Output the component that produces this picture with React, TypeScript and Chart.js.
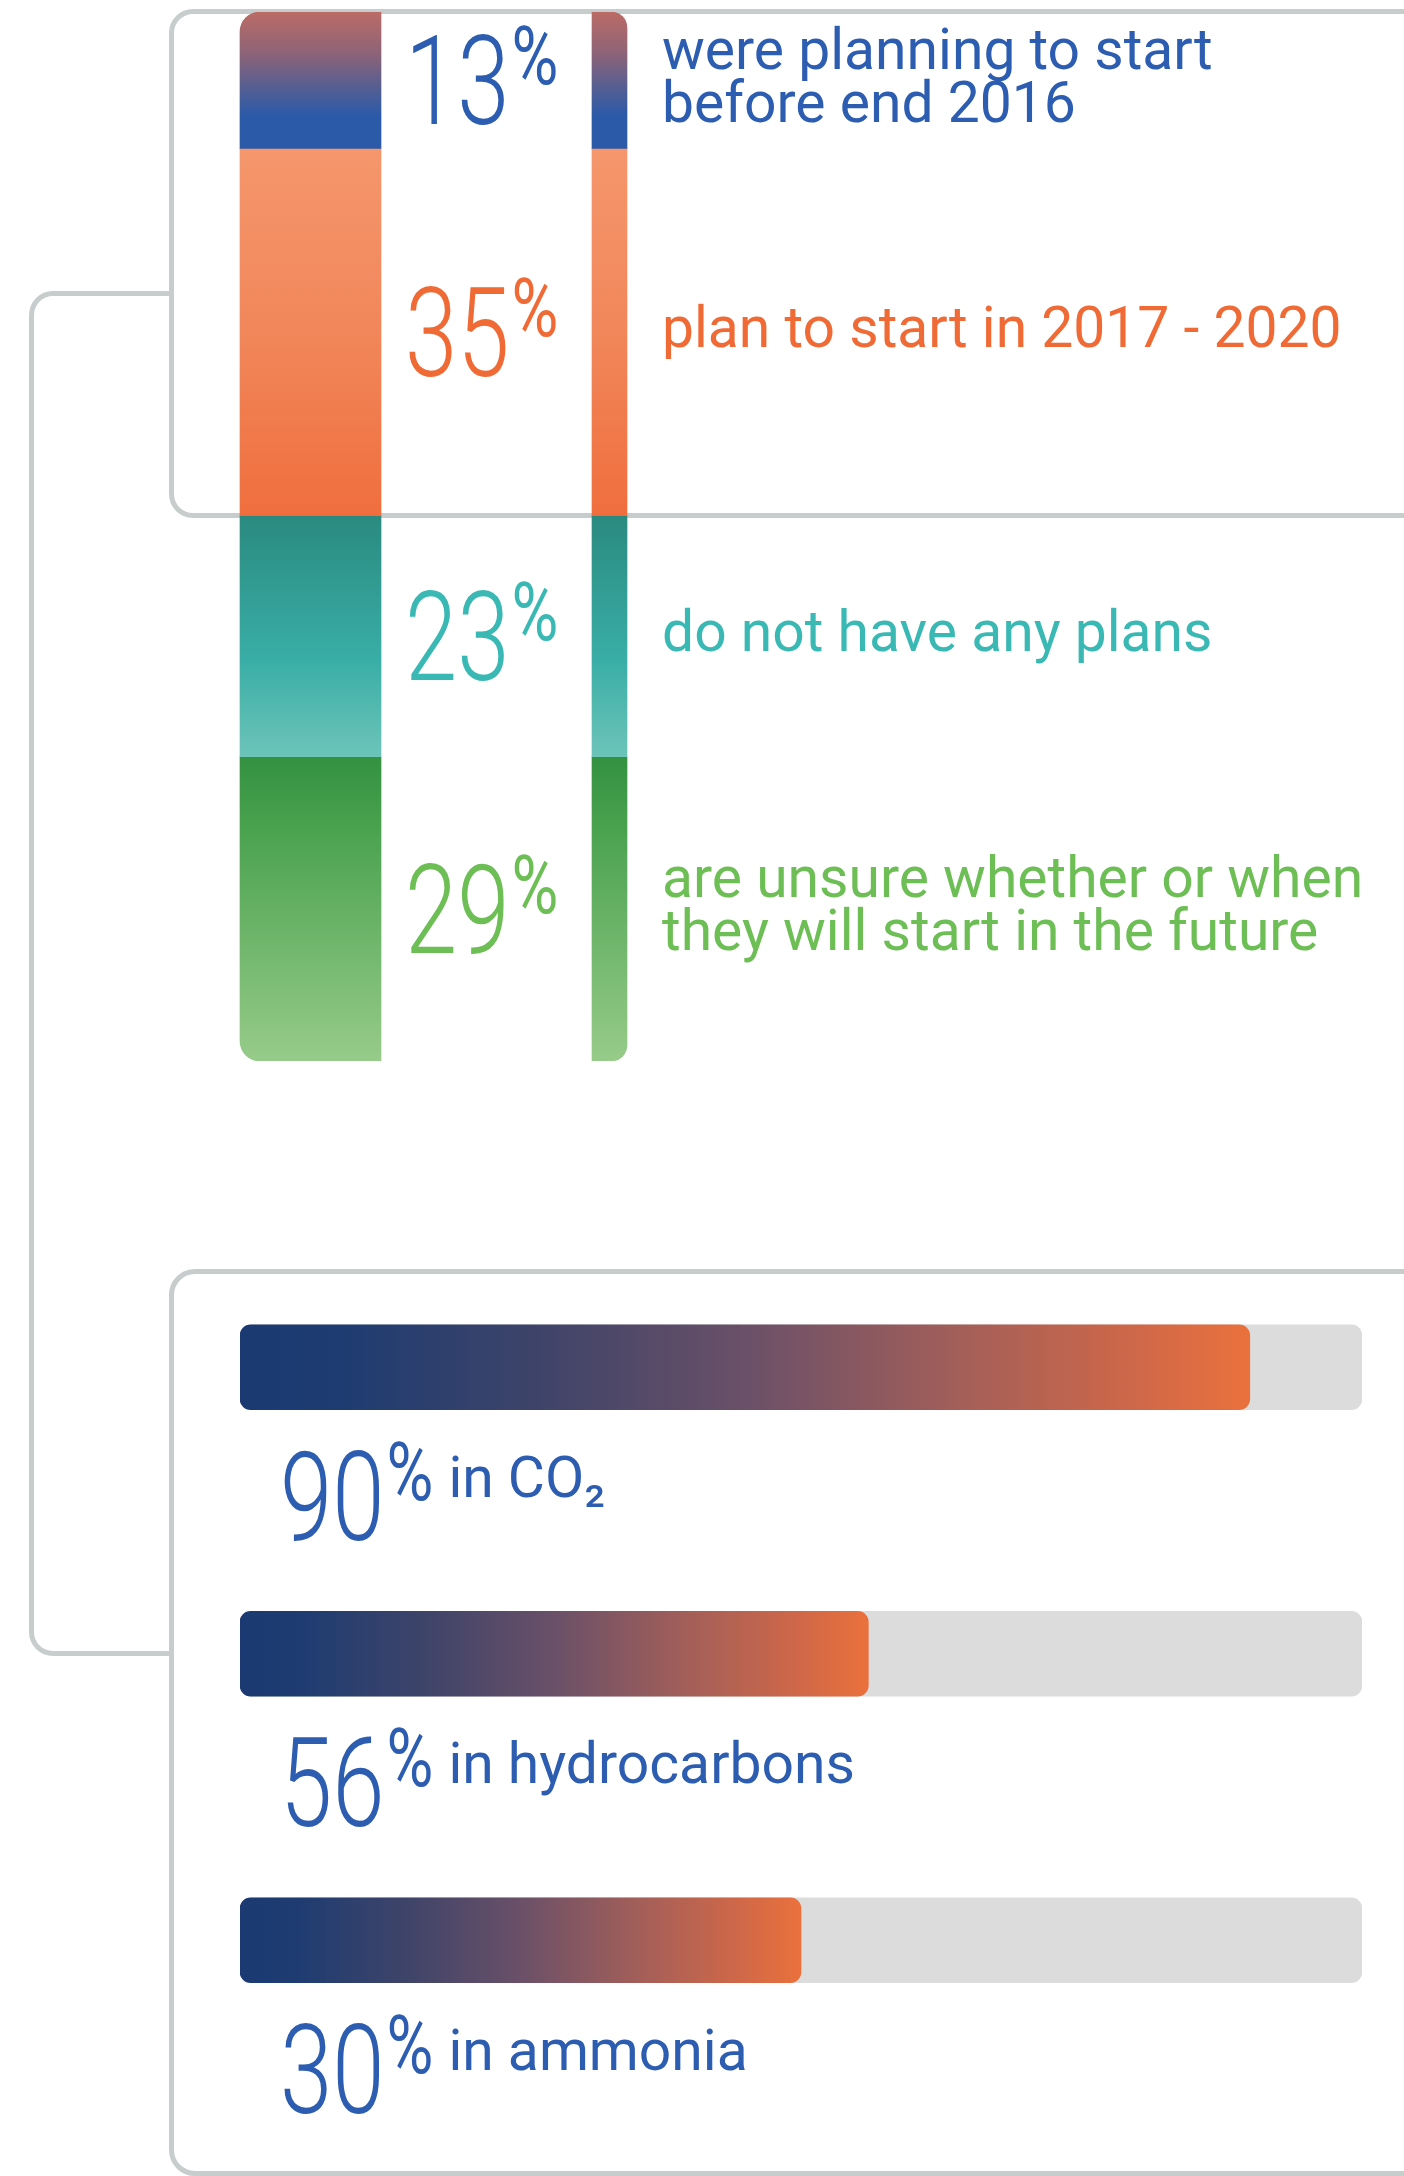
import { useEffect, useRef } from 'react';
import { Chart, registerables } from 'chart.js';

Chart.register(...registerables);

// ---------- Data: plans (stacked share bar) ----------
const planCategories = ['before end 2016', '2017 - 2020', 'no plans', 'unsure'];
const planShares = [13, 35, 23, 29];
const planDescriptions = [
  ['were planning to start', 'before end 2016'],
  ['plan to start in 2017 - 2020'],
  ['do not have any plans'],
  ['are unsure whether or when', 'they will start in the future'],
];

// ---------- Data: by medium (horizontal bars) ----------
const gasCategories = ['CO₂', 'hydrocarbons', 'ammonia'];
const gasLabelValues = [90, 56, 30];
const gasBarLengths = [90, 56, 50]; // bar lengths as drawn in the picture
const gasTrackValues = [100, 100, 100];
const gasDescriptions = ['in CO₂', 'in hydrocarbons', 'in ammonia'];

// ---------- Styles ----------
const FONT = 'Roboto, "Liberation Sans", sans-serif';
const LINE = '#c7cccc';
const GAS_TEXT = '#2d5db0';
const planTextColors = ['#2c5db0', '#f06a35', '#3ab9b4', '#6cbe55'];
const planGradientStops: [number, string][][] = [
  [[0, '#bb6b66'], [0.32, '#8a6379'], [0.58, '#4f5e95'], [0.76, '#2b5aa8'], [1, '#2b5aa8']],
  [[0, '#f5966c'], [0.5, '#f1875a'], [1, '#f06e3e']],
  [[0, '#2a8a80'], [0.6, '#39aea6'], [1, '#6dc4b9']],
  [[0, '#339140'], [0.2, '#46a04c'], [1, '#97cb89']],
];
const gasGradientStops: [number, string][] = [
  [0, '#1b3a73'], [0.1, '#1e3c71'], [0.3, '#3f4469'], [0.5, '#6a5068'],
  [0.7, '#a05e5a'], [0.88, '#cd6749'], [1, '#ea713c'],
];
const DIGIT_SCALE = 0.76;
const PCT_SCALE = 0.78;
const DESC_FONT = `400 57px ${FONT}`;

const planStarts = planShares.map((_, i) => planShares.slice(0, i).reduce((a, b) => a + b, 0));

function drawPercent(ctx: CanvasRenderingContext2D, x: number, top: number, digits: string, color: string) {
  ctx.save();
  ctx.fillStyle = color;
  ctx.textAlign = 'left';
  ctx.textBaseline = 'alphabetic';
  ctx.font = `300 124px ${FONT}`;
  const dw = ctx.measureText(digits).width * DIGIT_SCALE;
  ctx.save();
  ctx.translate(x, top + 88);
  ctx.scale(DIGIT_SCALE, 1);
  ctx.fillText(digits, 0, 0);
  ctx.restore();
  ctx.font = `400 82px ${FONT}`;
  const px = x + dw + 2;
  const pw = ctx.measureText('%').width * PCT_SCALE;
  ctx.save();
  ctx.translate(px, top + 48);
  ctx.scale(PCT_SCALE, 1);
  ctx.fillText('%', 0, 0);
  ctx.restore();
  ctx.restore();
  return px + pw;
}

function planGradient(i: number) {
  return (c: any) => {
    const chart = c.chart;
    const stops = planGradientStops[i];
    const y = chart.scales && chart.scales.y;
    if (!y || !chart.chartArea) return stops[stops.length - 1][1];
    const y0 = y.getPixelForValue(planStarts[i]);
    const y1 = y.getPixelForValue(planStarts[i] + planShares[i]);
    const g = chart.ctx.createLinearGradient(0, y0, 0, y1);
    stops.forEach(([o, col]) => g.addColorStop(o, col));
    return g;
  };
}

function gasGradient(c: any) {
  const chart = c.chart;
  const x = chart.scales && chart.scales.x;
  if (!x || !chart.chartArea || c.type !== 'data') return '#6a5068';
  const x0 = x.getPixelForValue(0);
  const x1 = x.getPixelForValue(gasBarLengths[c.dataIndex]);
  const g = chart.ctx.createLinearGradient(x0, 0, x1, 0);
  gasGradientStops.forEach(([o, col]) => g.addColorStop(o, col));
  return g;
}

const planLabelPlugin = {
  id: 'planLabels',
  afterDatasetsDraw(chart: any) {
    const ctx = chart.ctx as CanvasRenderingContext2D;
    planShares.forEach((v, i) => {
      const wideEl = chart.getDatasetMeta(i).data[0];
      const thinEl = chart.getDatasetMeta(planShares.length + i).data[1];
      if (!wideEl || !thinEl) return;
      const mid = (wideEl.y + wideEl.base) / 2;
      drawPercent(ctx, wideEl.x + wideEl.width / 2 + 24, mid - 44, String(v), planTextColors[i]);
      const lines = planDescriptions[i];
      const lh = 53;
      const first = mid + 15 - ((lines.length - 1) * lh) / 2;
      ctx.save();
      ctx.font = DESC_FONT;
      ctx.fillStyle = planTextColors[i];
      ctx.textAlign = 'left';
      ctx.textBaseline = 'alphabetic';
      lines.forEach((ln, k) => ctx.fillText(ln, thinEl.x + thinEl.width / 2 + 35, first + k * lh));
      ctx.restore();
    });
  },
};

const gasLabelPlugin = {
  id: 'gasLabels',
  afterDatasetsDraw(chart: any) {
    const ctx = chart.ctx as CanvasRenderingContext2D;
    const meta = chart.getDatasetMeta(0);
    const x0 = chart.scales.x.getPixelForValue(0);
    meta.data.forEach((el: any, i: number) => {
      const top = el.y + el.height / 2 + 42;
      const end = drawPercent(ctx, x0 + 40, top, String(gasLabelValues[i]), GAS_TEXT);
      ctx.save();
      ctx.font = DESC_FONT;
      ctx.fillStyle = GAS_TEXT;
      ctx.textAlign = 'left';
      ctx.textBaseline = 'alphabetic';
      ctx.fillText(gasDescriptions[i], end + 15, top + 45);
      ctx.restore();
    });
  },
};

function topConfig(): any {
  const last = planShares.length - 1;
  const common = { grouped: false, borderSkipped: false, borderWidth: 0 };
  const wide = planShares.map((v, i) => ({
    ...common,
    label: planCategories[i],
    data: [v, null],
    stack: 'wide',
    barThickness: 141,
    borderRadius: i === 0 ? { topLeft: 20 } : i === last ? { bottomLeft: 20 } : 0,
    backgroundColor: planGradient(i),
  }));
  const thin = planShares.map((v, i) => ({
    ...common,
    label: planCategories[i] + ' strip',
    data: [null, v],
    stack: 'thin',
    barThickness: 35,
    borderRadius: i === 0 ? { topRight: 16 } : i === last ? { bottomRight: 16 } : 0,
    backgroundColor: planGradient(i),
  }));
  return {
    type: 'bar',
    data: { labels: ['wide', 'strip'], datasets: [...wide, ...thin] },
    options: {
      responsive: false,
      maintainAspectRatio: false,
      animation: false,
      events: [],
      layout: { padding: { left: 161, right: 645, top: 12, bottom: 39 } },
      plugins: { legend: { display: false }, tooltip: { enabled: false }, title: { display: false } },
      scales: {
        x: { type: 'category', display: false, stacked: true, offset: true },
        y: { type: 'linear', display: false, stacked: true, min: 0, max: 100, reverse: true },
      },
    },
    plugins: [planLabelPlugin],
  };
}

function bottomConfig(): any {
  return {
    type: 'bar',
    data: {
      labels: gasCategories,
      datasets: [
        {
          label: 'share',
          data: gasBarLengths,
          backgroundColor: gasGradient,
          borderRadius: 11,
          borderSkipped: false,
          barThickness: 85,
          grouped: false,
          order: 1,
        },
        {
          label: 'track',
          data: gasTrackValues,
          backgroundColor: '#dcdcdc',
          borderRadius: 11,
          borderSkipped: false,
          barThickness: 85,
          grouped: false,
          order: 2,
        },
      ],
    },
    options: {
      indexAxis: 'y',
      responsive: false,
      maintainAspectRatio: false,
      animation: false,
      events: [],
      layout: { padding: { left: 240, right: 42, top: 24, bottom: 92.5 } },
      plugins: { legend: { display: false }, tooltip: { enabled: false }, title: { display: false } },
      scales: {
        x: { type: 'linear', display: false, min: 0, max: 100 },
        y: { type: 'category', display: false, offset: true },
      },
    },
    plugins: [gasLabelPlugin],
  };
}

export default function App() {
  const topRef = useRef<HTMLCanvasElement>(null);
  const bottomRef = useRef<HTMLCanvasElement>(null);

  useEffect(() => {
    const charts: Chart[] = [];
    if (topRef.current) charts.push(new Chart(topRef.current, topConfig()));
    if (bottomRef.current) charts.push(new Chart(bottomRef.current, bottomConfig()));
    return () => charts.forEach((c) => c.destroy());
  }, []);

  const line = `5px solid ${LINE}`;
  return (
    <div style={{ position: 'absolute', left: 0, top: 0, width: 1404, height: 2176, background: '#fff', overflow: 'hidden' }}>
      {/* bracket connector */}
      <div style={{ position: 'absolute', boxSizing: 'border-box', left: 29, top: 291, width: 142, height: 1365,
        borderLeft: line, borderTop: line, borderBottom: line, borderRadius: '24px 0 0 24px' }} />
      {/* top frame */}
      <div style={{ position: 'absolute', boxSizing: 'border-box', left: 168.5, top: 8.5, width: 1300, height: 509,
        border: line, borderRadius: 24 }} />
      {/* bottom frame */}
      <div style={{ position: 'absolute', boxSizing: 'border-box', left: 168.5, top: 1268.5, width: 1300, height: 907,
        border: line, borderRadius: 26 }} />
      <canvas ref={topRef} width={1404} height={1100}
        style={{ position: 'absolute', left: 0, top: 0, width: 1404, height: 1100 }} />
      <canvas ref={bottomRef} width={1404} height={976}
        style={{ position: 'absolute', left: 0, top: 1200, width: 1404, height: 976 }} />
    </div>
  );
}
